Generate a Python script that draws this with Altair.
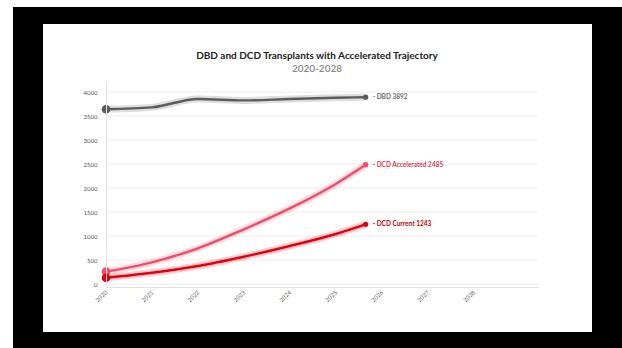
import altair as alt
import pandas as pd

# ---- data ----
title_text = "DBD and DCD Transplants with Accelerated Trajectory"
subtitle_text = "2020-2028"
years = [2020, 2021, 2022, 2023, 2024, 2025, 2025.65]
dbd = [3640, 3680, 3855, 3825, 3855, 3880, 3892]
dcd_accelerated = [257, 452, 745, 1140, 1575, 2085, 2485]
dcd_current = [131, 236, 375, 569, 792, 1042, 1243]
series_names = ["DBD", "DCD Accelerated", "DCD Current"]
tick_years = [2020, 2021, 2022, 2023, 2024, 2025, 2026, 2027, 2028]
y_ticks = [0, 500, 1000, 1500, 2000, 2500, 3000, 3500, 4000]

line_colors = ["#5c5c5c", "#ef4d66", "#e3000f"]
label_colors = ["#6a6a6a", "#e23a55", "#cc0000"]

rows = []
for name, vals in zip(series_names, [dbd, dcd_accelerated, dcd_current]):
    for i, (yr, v) in enumerate(zip(years, vals)):
        rows.append({"series": name, "year": yr, "value": v, "idx": i})
df = pd.DataFrame(rows)
start_df = df[df["idx"] == 0]
end_df = df[df["idx"] == len(years) - 1].copy()
end_df["label"] = "- " + end_df["series"] + " " + end_df["value"].astype(str)
grid_df = pd.DataFrame({"value": y_ticks})

FONT = "Lato"

x_scale = alt.Scale(domain=[2020, 2029.4], nice=False, zero=False)
y_scale = alt.Scale(domain=[-62, 4250], nice=False, zero=False)

x_enc = alt.X("year:Q", scale=x_scale,
              axis=alt.Axis(values=tick_years, format="d", labelAngle=-45,
                            labelAlign="right", labelBaseline="middle",
                            labelFontSize=6, labelColor="#666", labelPadding=4,
                            ticks=False, grid=False, domainColor="#e2e2e2",
                            title=None, zindex=1, labelFont=FONT))
y_enc = alt.Y("value:Q", scale=y_scale,
              axis=alt.Axis(values=y_ticks, format="d", labelFontSize=6,
                            labelColor="#555", labelPadding=9, ticks=False,
                            grid=False, domainColor="#e2e2e2",
                            labelOverlap=False,
                            title=None, zindex=1, labelFont=FONT))
color_line = alt.Color("series:N",
                       scale=alt.Scale(domain=series_names, range=line_colors),
                       legend=None)

one = pd.DataFrame({"k": [0]})
frame = alt.Chart(one).mark_rect(color="black").encode(
    x=alt.value(-93), x2=alt.value(516), y=alt.value(-73), y2=alt.value(268))
panel = alt.Chart(one).mark_rect(color="white").encode(
    x=alt.value(-63), x2=alt.value(486), y=alt.value(-56), y2=alt.value(252))
title = alt.Chart(pd.DataFrame({"t": [title_text]})).mark_text(
    fontSize=10, fontWeight="bold", font=FONT, color="#222222",
    align="center", baseline="middle").encode(
    text="t:N", x=alt.value(211), y=alt.value(-24))
subtitle = alt.Chart(pd.DataFrame({"t": [subtitle_text]})).mark_text(
    fontSize=10, fontWeight=600, font=FONT, color="#8a8a8a",
    align="center", baseline="middle").encode(
    text="t:N", x=alt.value(211), y=alt.value(-11))
grid = alt.Chart(grid_df).mark_rule(color="#ececec", strokeWidth=1).encode(
    y=y_enc)

glow = alt.Chart(df).mark_line(strokeWidth=7, opacity=0.2,
                               interpolate="monotone").encode(
    x=x_enc, y=y_enc, color=color_line, detail="series:N")
line = alt.Chart(df).mark_line(strokeWidth=2.4, interpolate="monotone").encode(
    x=x_enc, y=y_enc, color=color_line)
start_pts = alt.Chart(start_df).mark_circle(size=75, opacity=1).encode(
    x=x_enc, y=y_enc, color=color_line)
end_pts = alt.Chart(end_df).mark_circle(size=28, opacity=1).encode(
    x=x_enc, y=y_enc, color=color_line)
labels = alt.Chart(end_df).mark_text(align="left", dx=7, fontSize=6.5,
                                     fontWeight="bold", font=FONT).encode(
    x=x_enc, y=y_enc, text="label:N",
    color=alt.Color("series:N",
                    scale=alt.Scale(domain=series_names, range=label_colors),
                    legend=None))

chart = alt.layer(frame, panel, title, subtitle, grid, glow, line, start_pts,
                  end_pts, labels).resolve_scale(
    color="independent"
).properties(
    width=432, height=207,
    autosize=alt.AutoSizeParams(type="none"),
    padding={"left": 106, "top": 80, "right": 84, "bottom": 61},
    background="white",
).configure_view(stroke=None)

chart.save("out.html", embed_options={"renderer": "svg", "actions": False})
